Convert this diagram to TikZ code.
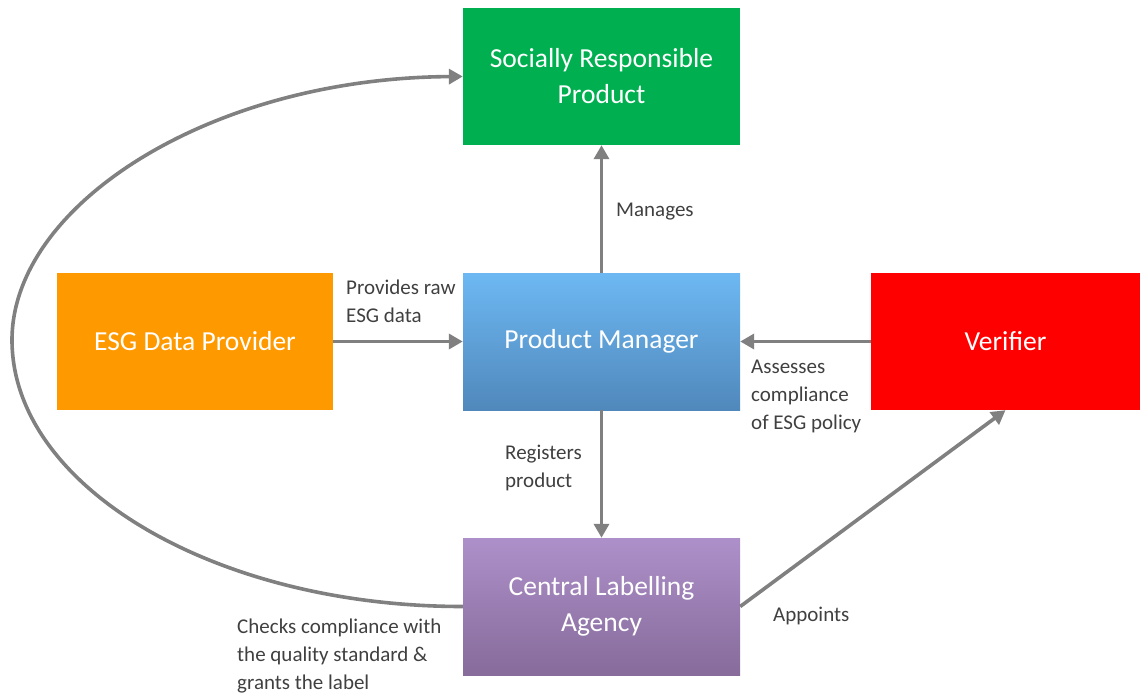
\documentclass[tikz,border=0pt]{standalone}
\usepackage{fontspec}
\setmainfont{Carlito}
\usetikzlibrary{arrows.meta}
\definecolor{srpgreen}{HTML}{00B050}
\definecolor{esgorange}{HTML}{FF9900}
\definecolor{verred}{HTML}{FF0000}
\definecolor{pmtop}{HTML}{6DB8F3}
\definecolor{pmbot}{HTML}{5088BB}
\definecolor{clatop}{HTML}{AD90C9}
\definecolor{clabot}{HTML}{866B9B}
\definecolor{conn}{HTML}{808080}
\definecolor{lbl}{HTML}{404040}
\tikzset{
  boxnode/.style={inner sep=0pt, minimum width=277pt, minimum height=137pt, text=white,
    align=center, font=\fontsize{27.5}{36}\selectfont},
  conline/.style={draw=conn, line width=3.6pt, -{Triangle[length=14pt,width=15pt]}},
  lbltext/.style={inner sep=0pt, anchor=west, align=left, text=lbl,
    font=\fontsize{21}{28}\selectfont}
}
\begin{document}
\begin{tikzpicture}[x=1pt,y=-1pt]
\useasboundingbox (0,0) rectangle (1141,697);
\node[boxnode, fill=srpgreen] (srp) at (601.5,76.5) {Socially Responsible\\Product};
\node[boxnode, fill=esgorange, minimum width=276pt] (esg) at (195,341.5) {ESG Data Provider};
\node[boxnode, top color=pmtop, bottom color=pmbot] (pm) at (601.5,341.5) {Product Manager};
\node[boxnode, fill=verred, minimum width=269pt] (ver) at (1005.5,341.5) {Verifier};
\node[boxnode, top color=clatop, bottom color=clabot] (cla) at (601.5,606.5) {Central Labelling\\Agency};

\draw[conline] (pm.north) -- (srp.south);
\draw[conline] (esg.east) -- (pm.west);
\draw[conline] (ver.west) -- (pm.east);
\draw[conline] (pm.south) -- (cla.south |- cla.north);
\draw[conline] (cla.east) -- (ver.south);
\draw[conline] (cla.west) .. controls (214,606.5) and (12,486) .. (12,340)
  .. controls (12,205) and (210,78) .. (srp.west);

\node[lbltext] (lman) at (616,212) {Manages};
\node[lbltext] (lprov) at (346,301) {Provides raw\\ESG data};
\node[lbltext] (lass) at (751,396) {Assesses\\compliance\\of ESG policy};
\node[lbltext] (lreg) at (505,468) {Registers\\product};
\node[lbltext] (lapp) at (773,616) {Appoints};
\node[lbltext] (lchk) at (237,656) {Checks compliance with\\the quality standard \&\\grants the label};
\end{tikzpicture}
\end{document}
